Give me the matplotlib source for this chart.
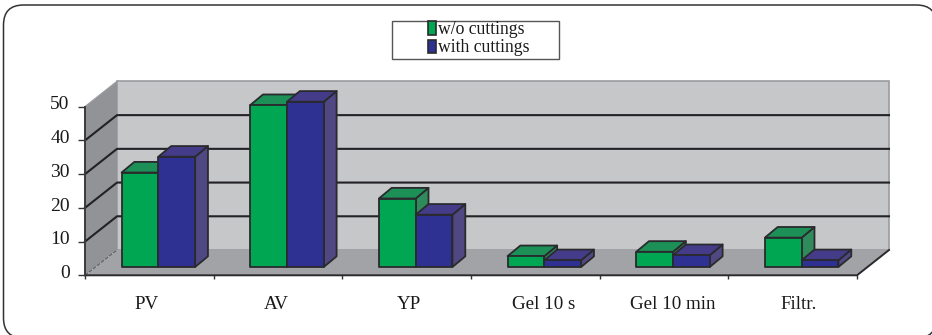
import matplotlib
matplotlib.use('Agg')
import matplotlib.pyplot as plt
from matplotlib.patches import FancyBboxPatch, Polygon, Patch, Rectangle
from matplotlib.transforms import ScaledTranslation

categories = ['PV', 'AV', 'YP', 'Gel 10 s', 'Gel 10 min', 'Filtr.']
without_cuttings = [28, 48, 20.3, 3.2, 4.5, 8.7]
with_cuttings = [32.7, 49, 15.5, 2, 3.5, 2]
y_ticks = [0, 10, 20, 30, 40, 50]
legend_labels = ['w/o cuttings', 'with cuttings']

W, H = 932, 335
GREEN, GREEN_TOP, GREEN_SIDE = '#00a651', '#1c9056', '#2f8a5c'
BLUE, BLUE_TOP, BLUE_SIDE = '#2e3192', '#443c88', '#4f4883'
EDGE = '#2a2a2e'

plt.rcParams['font.family'] = ['Liberation Serif', 'DejaVu Serif']
plt.rcParams['font.size'] = 12

fig = plt.figure(figsize=(W / 100, H / 100), dpi=100)

# outer rounded frame, drawn in pixels
frame = FancyBboxPatch((3.5, -3), 933, 333, boxstyle='round,pad=0,rounding_size=20', transform=None,
                       fc='white', ec='#333333', lw=1.1, zorder=-1)
fig.add_artist(frame)

ax = fig.add_axes([85 / W, (H - 275.3) / H, 772 / W, 168.6 / H])
ax.set_xlim(0, 6)
ax.set_ylim(0, 50)
ax.patch.set_alpha(0)
for s in ax.spines.values():
    s.set_visible(False)

# depth of the fake 3d box, in data units
DX, DY = 0.2487, 7.5
n = len(categories)

ax.add_patch(Polygon([(DX, DY), (n + DX, DY), (n + DX, 50 + DY), (DX, 50 + DY)], fc='#c6c7c9', ec='#9a9b9e', lw=1.2, clip_on=False, zorder=1))
ax.add_patch(Polygon([(0, 0), (DX, DY), (DX, 50 + DY), (0, 50)], fc='#929397', ec='none', clip_on=False, zorder=1))
ax.add_patch(Polygon([(0, 0), (n, 0), (n + DX, DY), (DX, DY)], fc='#a2a3a6', ec='none', clip_on=False, zorder=1))

for t in y_ticks[1:-1]:
    ax.plot([0, DX, n + DX], [t, t + DY, t + DY], color='#222226', lw=1.5, clip_on=False, zorder=2)
ax.plot([0, DX], [50, 50 + DY], color='#9a9b9e', lw=1, clip_on=False, zorder=2)
ax.plot([0, DX], [0, DY], color='#55565a', lw=0.7, ls='--', clip_on=False, zorder=2)
ax.plot([0, n, n + DX], [0, 0, DY], color='#2a2a2e', lw=1.4, clip_on=False, zorder=2)
ax.plot([0, 0], [0, 50], color='#3a3a3e', lw=1.4, clip_on=False, zorder=2)


def draw_bar(left, width, value, front, top, side, z):
    # box sits at about a third of the floor depth
    x0 = left + 0.31 * DX
    y0 = 0.33 * DY
    dx = 0.40 * DX
    dy = 0.42 * DY
    x1 = x0 + width
    y1 = y0 + value
    style = dict(ec=EDGE, lw=1.3, joinstyle='round', clip_on=False, zorder=z)
    ax.add_patch(Polygon([(x1, y0), (x1 + dx, y0 + dy), (x1 + dx, y1 + dy), (x1, y1)], fc=side, **style))
    ax.add_patch(Polygon([(x0, y1), (x1, y1), (x1 + dx, y1 + dy), (x0 + dx, y1 + dy)], fc=top, **style))
    ax.add_patch(Polygon([(x0, y0), (x1, y0), (x1, y1), (x0, y1)], fc=front, **style))


bar_w = 0.286
bar_left = 0.207
for i in range(n):
    draw_bar(i + bar_left, bar_w, without_cuttings[i], GREEN, GREEN_TOP, GREEN_SIDE, 3 + 2 * i)
    draw_bar(i + bar_left + bar_w, bar_w, with_cuttings[i], BLUE, BLUE_TOP, BLUE_SIDE, 4 + 2 * i)

# labels are not quite centred under their slots in the original
nudge = [-0.025, -0.015, 0.02, 0.065, 0.07, 0.05]
ax.set_xticks([i + 0.5 + nudge[i] for i in range(n)])
ax.set_xticklabels(categories)
ax.tick_params(axis='x', which='major', length=0, pad=15, labelsize=13.7, labelcolor='#1a1a1a')
ax.set_xticks(range(n + 1), minor=True)
ax.tick_params(axis='x', which='minor', length=3, width=1, color='#333333')

ax.set_yticks(y_ticks)
ax.tick_params(axis='y', length=5, width=1, color='#333333', pad=6, labelsize=14, labelcolor='#1a1a1a')
shift_down = ScaledTranslation(0, -2 / 72, fig.dpi_scale_trans)
for lab in ax.get_yticklabels():
    lab.set_verticalalignment('baseline')
    lab.set_transform(lab.get_transform() + shift_down)

# legend box
fig.add_artist(Rectangle((391.7 / W, (H - 58.5) / H), 167.6 / W, 38 / H, transform=fig.transFigure, fc='white', ec='#555555', lw=1))
handles = [Patch(fc=GREEN, ec=EDGE, lw=1.2), Patch(fc=BLUE, ec=EDGE, lw=1.2)]
fig.legend(handles, legend_labels, loc='upper left', bbox_to_anchor=(427.5 / W, (H - 21) / H), frameon=False, borderpad=0, borderaxespad=0,
           handlelength=0.5, handleheight=0.8, handletextpad=0.08, labelspacing=0.08, fontsize=12.7, labelcolor='#1a1a1a')

fig.savefig('out.png', dpi=100)
